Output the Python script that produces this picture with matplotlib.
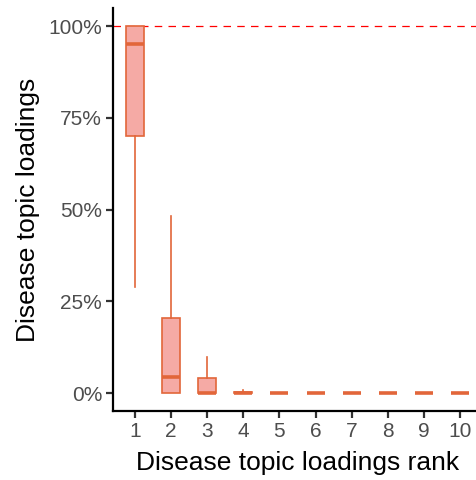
import matplotlib.pyplot as plt
from matplotlib.ticker import PercentFormatter

plt.rcParams['font.family'] = ['Liberation Sans', 'DejaVu Sans']

ranks = [1, 2, 3, 4, 5, 6, 7, 8, 9, 10]
q1 = [0.70, 0.0, 0.0, 0.0, 0.0, 0.0, 0.0, 0.0, 0.0, 0.0]
med = [0.95, 0.043, 0.0, 0.0, 0.0, 0.0, 0.0, 0.0, 0.0, 0.0]
q3 = [1.0, 0.204, 0.040, 0.004, 0.0, 0.0, 0.0, 0.0, 0.0, 0.0]
whislo = [0.289, 0.0, 0.0, 0.0, 0.0, 0.0, 0.0, 0.0, 0.0, 0.0]
whishi = [1.0, 0.483, 0.098, 0.009, 0.0, 0.0, 0.0, 0.0, 0.0, 0.0]

edge = '#E2663A'
fill = '#F5AAA5'

stats = []
for i in range(len(ranks)):
    stats.append(dict(q1=q1[i], med=med[i], q3=q3[i],
                      whislo=whislo[i], whishi=whishi[i], fliers=[]))

fig = plt.figure(figsize=(4.77, 4.8), dpi=100)
ax = fig.add_axes([0.2375, 0.143, 0.7723, 0.841])

ax.axhline(1.0, color='#FF0000', lw=0.9, ls=(0, (6, 5)), zorder=1)

ax.bxp(stats, positions=ranks, widths=0.5, patch_artist=True, showcaps=False,
       boxprops=dict(facecolor=fill, edgecolor=edge, linewidth=1.2),
       whiskerprops=dict(color=edge, linewidth=1.2),
       medianprops=dict(color=edge, linewidth=2.6, solid_capstyle='butt'),
       showfliers=False)

ax.set_xlim(0.4, 10.6)
ax.set_ylim(-0.05, 1.05)
ax.set_xticks(ranks)
ax.set_xticklabels([str(r) for r in ranks])
ax.set_yticks([0, 0.25, 0.5, 0.75, 1.0])
ax.yaxis.set_major_formatter(PercentFormatter(1.0, decimals=0))

for s in ['top', 'right']:
    ax.spines[s].set_visible(False)
for s in ['left', 'bottom']:
    ax.spines[s].set_linewidth(1.6)
    ax.spines[s].set_color('black')

ax.tick_params(axis='both', length=5, width=1.6, color='#333333',
               labelsize=15, labelcolor='#4D4D4D', pad=3)

ax.set_xlabel('Disease topic loadings rank', fontsize=19, color='black', labelpad=7)
ax.set_ylabel('Disease topic loadings', fontsize=19, color='black', labelpad=6)

fig.savefig('out.png', dpi=100)
